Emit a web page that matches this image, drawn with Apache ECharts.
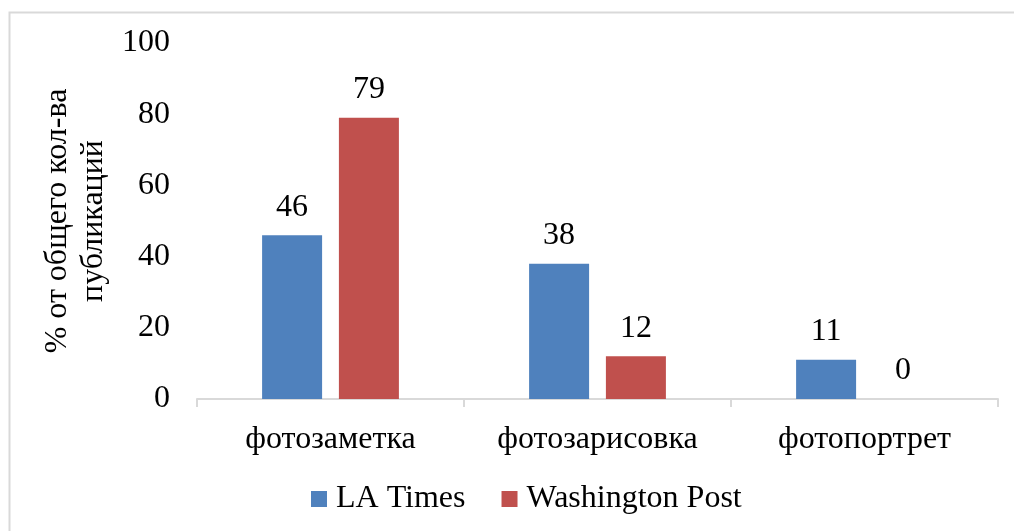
<!DOCTYPE html>
<html>
<head>
<meta charset="utf-8">
<script src="https://cdn.jsdelivr.net/npm/echarts@6/dist/echarts.min.js"></script>
<style>html,body{margin:0;padding:0;background:#fff}#c{width:1014px;height:531px}</style>
</head>
<body>
<div id="c"></div>
<script>
const categories = ['фотозаметка', 'фотозарисовка', 'фотопортрет'];
const laTimes = [46, 38, 11];
const washingtonPost = [79, 12, 0];
const seriesNames = ['LA Times', 'Washington Post'];
const yTicks = [0, 20, 40, 60, 80, 100];
const yTitle = '% от общего кол-ва\nпубликаций';

const FONT = '"Liberation Serif", "Times New Roman", serif';
const FS = 32;
const chart = echarts.init(document.getElementById('c'), null, {renderer: 'canvas'});
chart.setOption({
  animation: false,
  backgroundColor: '#fff',
  graphic: [{
    type: 'rect', left: 7, top: 10,
    shape: {width: 1012, height: 530},
    style: {fill: 'none', stroke: '#d9d9d9', lineWidth: 2}, silent: true
  }],
  grid: {left: 197, right: 16, top: 43, bottom: 132, containLabel: false},
  legend: {
    data: seriesNames, top: 478, left: 306,
    itemWidth: 16, itemHeight: 16, itemGap: 36,
    icon: 'rect',
    textStyle: {fontFamily: FONT, fontSize: FS, color: '#000', padding: [0, 0, 0, 4]}
  },
  xAxis: {
    type: 'category', data: categories,
    axisLine: {lineStyle: {color: '#d9d9d9', width: 2}},
    axisTick: {show: true, length: 8, lineStyle: {color: '#d9d9d9', width: 2}},
    axisLabel: {fontFamily: FONT, fontSize: FS, color: '#000', margin: 25}
  },
  yAxis: {
    type: 'value', min: yTicks[0], max: yTicks[yTicks.length - 1], interval: 20,
    axisLine: {show: false}, axisTick: {show: false}, splitLine: {show: false},
    axisLabel: {fontFamily: FONT, fontSize: FS, color: '#000', margin: 27},
    name: yTitle, nameLocation: 'middle', nameGap: 78, nameRotate: 90,
    nameTextStyle: {fontFamily: FONT, fontSize: FS, color: '#000', lineHeight: 36, align: 'center'}
  },
  series: [
    {
      name: seriesNames[0], type: 'bar', data: laTimes,
      barWidth: 60, barGap: '28%',
      itemStyle: {color: '#4F81BD'},
      label: {show: true, position: 'top', distance: 12, fontFamily: FONT, fontSize: FS, color: '#000'}
    },
    {
      name: seriesNames[1], type: 'bar', data: washingtonPost,
      barWidth: 60,
      itemStyle: {color: '#C0504D'},
      label: {show: true, position: 'top', distance: 12, fontFamily: FONT, fontSize: FS, color: '#000'}
    }
  ]
});
</script>
</body>
</html>
